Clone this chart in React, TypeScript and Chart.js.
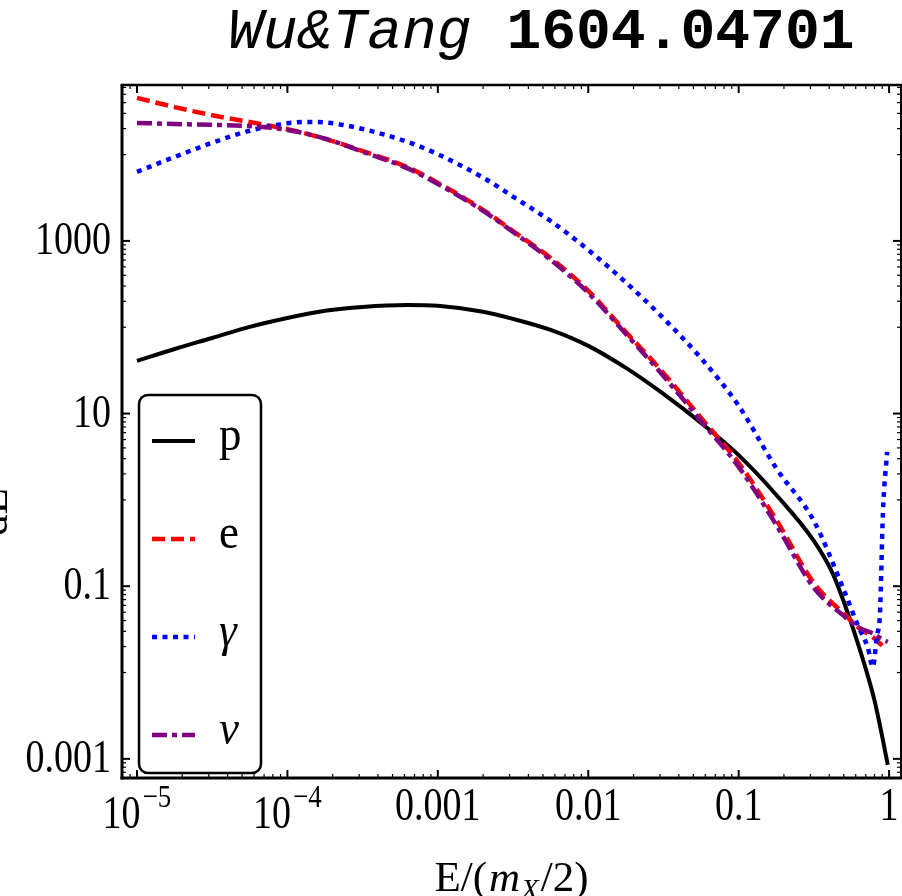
import React, { useEffect, useRef } from "react";
import { Chart, registerables } from "chart.js";

Chart.register(...registerables);

// ---------------- text ----------------
const TITLE_ITALIC = "Wu&Tang";
const TITLE_BOLD = "1604.04701";
const SERIES_NAMES = ["p", "e", "γ", "ν"];
const Y_TITLE_NUM = "dN";
const Y_TITLE_DEN = "dE";

// ---------------- data: E/(mX/2) vs dN/dE ----------------
// p (proton)
const P_X = [1e-5, 1.78e-5, 3.16e-5, 5.62e-5, 1e-4, 1.78e-4, 3.16e-4, 6.3e-4, 1e-3, 2e-3, 3.16e-3, 5.62e-3, 0.01, 0.0178, 0.0316, 0.0562, 0.1, 0.178, 0.316, 0.42, 0.5, 0.63, 0.794, 0.89, 0.98];
const P_Y = [40.7, 56, 75, 101, 128, 155, 172, 181, 177, 151, 125, 93, 60.8, 33.8, 16.9, 7.8, 3.3, 1.14, 0.335, 0.143, 0.066, 0.02, 0.005, 0.002, 0.00085];
// e (electron)
const E_X = [1e-5, 1.78e-5, 3.16e-5, 5.62e-5, 1e-4, 1.78e-4, 3.16e-4, 6.3e-4, 1e-3, 2e-3, 3.16e-3, 5.62e-3, 0.01, 0.0178, 0.0316, 0.0562, 0.1, 0.178, 0.316, 0.5, 0.63, 0.794, 0.89, 0.96];
const E_Y = [45400, 35500, 28600, 23800, 19700, 15200, 11000, 7130, 4700, 2290, 1300, 635, 264, 88, 29.6, 8.9, 2.68, 0.586, 0.109, 0.048, 0.033, 0.025, 0.0209, 0.0183];
// gamma
const G_X = [1e-5, 1.78e-5, 3.16e-5, 5.62e-5, 1e-4, 1.41e-4, 1.78e-4, 3.16e-4, 6.3e-4, 1e-3, 2e-3, 3.16e-3, 5.62e-3, 0.01, 0.0178, 0.0316, 0.0562, 0.1, 0.178, 0.316, 0.5, 0.63, 0.72, 0.78, 0.83, 0.87, 0.91, 0.97];
const G_Y = [6310, 9400, 13700, 18900, 23100, 23900, 23600, 19800, 14000, 10100, 5410, 3260, 1700, 787, 330, 127, 43.8, 12.3, 2.32, 0.571, 0.0906, 0.0329, 0.0198, 0.0116, 0.0266, 0.049, 0.706, 3.6];
// nu
const NU_X = [1e-5, 1.78e-5, 3.16e-5, 5.62e-5, 1e-4, 1.78e-4, 3.16e-4, 6.3e-4, 1e-3, 2e-3, 3.16e-3, 5.62e-3, 0.01, 0.0178, 0.0316, 0.0562, 0.1, 0.178, 0.316, 0.5, 0.63, 0.794, 0.89, 0.98];
const NU_Y = [23300, 22600, 22100, 21400, 19300, 15300, 10800, 6920, 4570, 2230, 1270, 603, 250, 83.7, 27.3, 8.2, 2.41, 0.513, 0.0957, 0.0453, 0.033, 0.028, 0.0245, 0.0226];

// ---------------- axes ----------------
const X_MIN = 7.95e-6;
const X_MAX = 1.2;
const Y_MIN = 6.0e-4;
const Y_MAX = 6.4e4;
const X_MAJOR = [1e-5, 1e-4, 1e-3, 0.01, 0.1, 1];
const X_LABEL_BASE = ["10", "10", "0.001", "0.01", "0.1", "1"];
const X_LABEL_SUP = ["−5", "−4", "", "", "", ""];
const Y_MAJOR = [1e5, 1000, 10, 0.1, 0.001];
const Y_LABELS = ["", "1000", "10", "0.1", "0.001"];

const SERIF = '"Liberation Serif", "Times New Roman", serif';
const MONO = '"Liberation Mono", "Courier New", monospace';

const COLORS = ["#000000", "#ff0000", "#0000ff", "#800080"];
const WIDTHS = [4, 4.5, 4.5, 4.5];
const DASHES: number[][] = [[], [13, 6], [5, 5.5], [15, 5, 5, 5]];

function pts(xs: number[], ys: number[]) {
  return xs.map((x, i) => ({ x, y: ys[i] }));
}

function drawText(
  ctx: CanvasRenderingContext2D,
  s: string,
  x: number,
  y: number,
  font: string,
  sy: number,
  align: CanvasTextAlign = "left"
) {
  ctx.save();
  ctx.translate(x, y);
  ctx.scale(1, sy);
  ctx.font = font;
  ctx.textAlign = align;
  ctx.textBaseline = "alphabetic";
  ctx.fillStyle = "#000";
  ctx.fillText(s, 0, 0);
  ctx.restore();
}

function seg(ctx: CanvasRenderingContext2D, x1: number, y1: number, x2: number, y2: number, w: number) {
  ctx.lineWidth = w;
  ctx.beginPath();
  ctx.moveTo(x1, y1);
  ctx.lineTo(x2, y2);
  ctx.stroke();
}

const decorPlugin = {
  id: "decor",
  afterDatasetsDraw(chart: any) {
    const ctx: CanvasRenderingContext2D = chart.ctx;
    const { left, right, top, bottom } = chart.chartArea;
    const xs = chart.scales.x;
    const ys = chart.scales.y;
    ctx.save();
    ctx.strokeStyle = "#000";
    ctx.lineCap = "butt";
    ctx.setLineDash([]);

    // frame
    seg(ctx, left - 1.5, top, right + 1, top, 2.5);
    seg(ctx, right, top, right, bottom, 2);
    seg(ctx, left - 1.5, bottom, right + 1, bottom, 3);
    seg(ctx, left, top, left, bottom + 1.5, 3);

    // x ticks
    const lmin = Math.log10(X_MIN), lmax = Math.log10(X_MAX);
    for (let e = Math.floor(lmin); e <= Math.ceil(lmax); e++) {
      for (let k = 1; k <= 9; k++) {
        const v = k * Math.pow(10, e);
        if (v < X_MIN || v > X_MAX) continue;
        const px = xs.getPixelForValue(v);
        const major = k === 1;
        const len = major ? 8 : 4;
        const w = major ? 2 : 1.2;
        seg(ctx, px, bottom, px, bottom - len, w);
        seg(ctx, px, top, px, top + len, w);
      }
    }
    // y ticks
    for (const M of Y_MAJOR) {
      if (M >= Y_MIN && M <= Y_MAX) {
        const py = ys.getPixelForValue(M);
        seg(ctx, left, py, left + 8, py, 2);
        seg(ctx, right, py, right - 8, py, 2);
      }
      for (let k = 1; k <= 9; k++) {
        const v = M * k / 10;
        if (v < Y_MIN || v > Y_MAX) continue;
        const py = ys.getPixelForValue(v);
        seg(ctx, left, py, left + 4, py, 1.2);
        seg(ctx, right, py, right - 4, py, 1.2);
      }
    }

    // y tick labels
    const tickFont = `38px ${SERIF}`;
    Y_MAJOR.forEach((v, i) => {
      if (!Y_LABELS[i]) return;
      const py = ys.getPixelForValue(v);
      drawText(ctx, Y_LABELS[i], 111, py + 13, tickFont, 1.2, "right");
    });

    // x tick labels
    const supFont = `27px ${SERIF}`;
    X_MAJOR.forEach((v, i) => {
      const px = xs.getPixelForValue(v);
      const base = X_LABEL_BASE[i];
      const sup = X_LABEL_SUP[i];
      if (sup) {
        ctx.font = tickFont;
        const wb = ctx.measureText(base).width;
        ctx.font = supFont;
        const ws = ctx.measureText(sup).width;
        const gap = 2;
        const start = px - (wb + gap + ws) / 2;
        drawText(ctx, base, start, 828, tickFont, 1.2, "left");
        drawText(ctx, sup, start + wb + gap, 807, supFont, 1.2, "left");
      } else {
        drawText(ctx, base, px, 820, tickFont, 1.2, "center");
      }
    });

    // x axis title: E/(m_X/2)
    const reg = `43px ${SERIF}`;
    const ital = `italic 43px ${SERIF}`;
    const sub = `italic 29px ${SERIF}`;
    const pieces: { t: string; f: string; dy: number; pad: number }[] = [
      { t: "E/(", f: reg, dy: 0, pad: 2 },
      { t: "m", f: ital, dy: 0, pad: 1 },
      { t: "X", f: sub, dy: 8, pad: 2 },
      { t: "/2)", f: reg, dy: 0, pad: 0 },
    ];
    let total = 0;
    const widths = pieces.map((p) => {
      ctx.font = p.f;
      const w = ctx.measureText(p.t).width;
      total += w + p.pad;
      return w;
    });
    let cx = (left + right) / 2 - total / 2;
    pieces.forEach((p, i) => {
      drawText(ctx, p.t, cx, 891 + p.dy, p.f, 1.0, "left");
      cx += widths[i] + p.pad;
    });

    // y axis title (fraction, mostly outside the canvas)
    ctx.save();
    ctx.translate(7, 512);
    ctx.rotate(-Math.PI / 2);
    ctx.font = `43px ${SERIF}`;
    ctx.textAlign = "center";
    ctx.textBaseline = "alphabetic";
    ctx.fillStyle = "#000";
    ctx.fillText(Y_TITLE_DEN, 0, 0);
    ctx.fillText(Y_TITLE_NUM, 0, -48);
    ctx.restore();

    // title
    const tItal = `italic 58px ${MONO}`;
    const tBold = `bold 58px ${MONO}`;
    ctx.font = tItal;
    const wi = ctx.measureText(TITLE_ITALIC + " ").width;
    drawText(ctx, TITLE_ITALIC, 228, 48, tItal, 1.0, "left");
    drawText(ctx, TITLE_BOLD, 228 + wi, 48, tBold, 1.0, "left");

    // legend box
    const bx = 139, by = 395, bw = 122, bh = 378;
    ctx.setLineDash([]);
    ctx.beginPath();
    (ctx as any).roundRect(bx, by, bw, bh, 9);
    ctx.fillStyle = "#fff";
    ctx.fill();
    ctx.lineWidth = 2.5;
    ctx.strokeStyle = "#000";
    ctx.stroke();

    const rows = [441, 539, 637, 735];
    const legFont = `45px ${SERIF}`;
    const legItal = `italic 45px ${SERIF}`;
    SERIES_NAMES.forEach((name, i) => {
      const ry = rows[i];
      ctx.save();
      ctx.strokeStyle = COLORS[i];
      ctx.lineWidth = WIDTHS[i];
      ctx.setLineDash(DASHES[i]);
      ctx.beginPath();
      ctx.moveTo(152, ry);
      ctx.lineTo(195, ry);
      ctx.stroke();
      ctx.restore();
      drawText(ctx, name, 219, ry + 9, i >= 2 ? legItal : legFont, 1.1, "left");
    });

    ctx.restore();
  },
};

export default function App() {
  const ref = useRef<HTMLCanvasElement | null>(null);

  useEffect(() => {
    if (!ref.current) return;
    const series = [
      pts(P_X, P_Y),
      pts(E_X, E_Y),
      pts(G_X, G_Y),
      pts(NU_X, NU_Y),
    ];
    const orders = [4, 3, 2, 1];
    const chart = new Chart(ref.current, {
      type: "line",
      data: {
        datasets: series.map((d, i) => ({
          label: SERIES_NAMES[i],
          data: d,
          borderColor: COLORS[i],
          backgroundColor: COLORS[i],
          borderWidth: WIDTHS[i],
          borderDash: DASHES[i],
          borderCapStyle: "butt",
          pointRadius: 0,
          fill: false,
          cubicInterpolationMode: "monotone",
          order: orders[i],
        })),
      },
      options: {
        animation: false,
        responsive: false,
        events: [],
        layout: { padding: { left: 122, top: 85, right: 1, bottom: 118 } },
        plugins: {
          legend: { display: false },
          title: { display: false },
          tooltip: { enabled: false },
        },
        scales: {
          x: { type: "logarithmic", min: X_MIN, max: X_MAX, display: false, bounds: "data" },
          y: { type: "logarithmic", min: Y_MIN, max: Y_MAX, display: false, bounds: "data" },
        },
      },
      plugins: [decorPlugin],
    } as any);
    return () => chart.destroy();
  }, []);

  return (
    <div style={{ position: "absolute", left: 0, top: 0, width: 902, height: 896, background: "#fff" }}>
      <canvas ref={ref} width={902} height={896} style={{ display: "block" }} />
    </div>
  );
}
